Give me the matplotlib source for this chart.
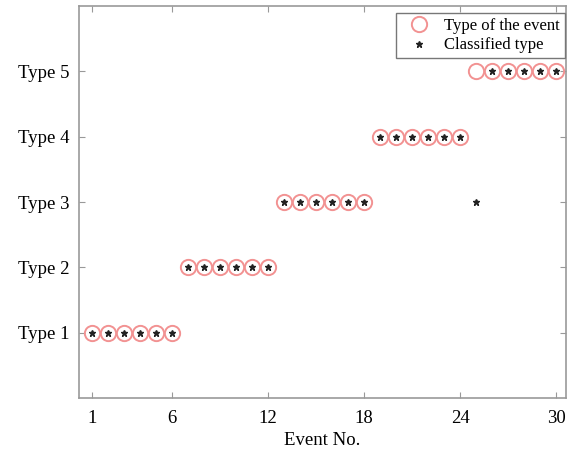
import matplotlib
matplotlib.use("Agg")
import matplotlib.pyplot as plt

event_no = list(range(1, 31))
true_type = [1] * 6 + [2] * 6 + [3] * 6 + [4] * 6 + [5] * 6
classified = [1] * 6 + [2] * 6 + [3] * 6 + [4] * 6 + [3] + [5] * 5
x_ticks = [1, 6, 12, 18, 24, 30]
y_labels = ["Type 1", "Type 2", "Type 3", "Type 4", "Type 5"]

plt.rcParams["font.family"] = ["Liberation Serif", "DejaVu Serif"]

fig = plt.figure(figsize=(5.74, 4.5), dpi=100)
ax = fig.add_axes([0.1376, 0.1156, 0.8484, 0.871])

ax.plot(event_no, true_type, "o", ms=11, mfc="none", mec="#f29292", mew=1.4,
        ls="none", label="Type of the event")
ax.plot(event_no, classified, "*", ms=4.5, color="#222222", ls="none",
        label="Classified type")

ax.set_xlim(0.2, 30.6)
ax.set_ylim(0, 6)
ax.set_xticks(x_ticks)
ax.set_yticks(range(1, 6))
ax.set_yticklabels(y_labels)
ax.tick_params(direction="in", length=4, color="#999999", labelsize=13.5,
               top=True, right=True, pad=7)
ax.tick_params(axis="x", pad=9)
for s in ax.spines.values():
    s.set_color("#999999")
    s.set_linewidth(1.2)
ax.set_xlabel("Event No.", fontsize=13.5, labelpad=3)

leg = ax.legend(loc="upper right", fontsize=12, fancybox=False, framealpha=1,
                edgecolor="#777777", handletextpad=0.4, borderpad=0.3,
                labelspacing=0.2, handlelength=2.2, borderaxespad=0,
                bbox_to_anchor=(0.998, 0.982))
leg.get_frame().set_linewidth(1.0)

fig.savefig("out.png", dpi=100)
